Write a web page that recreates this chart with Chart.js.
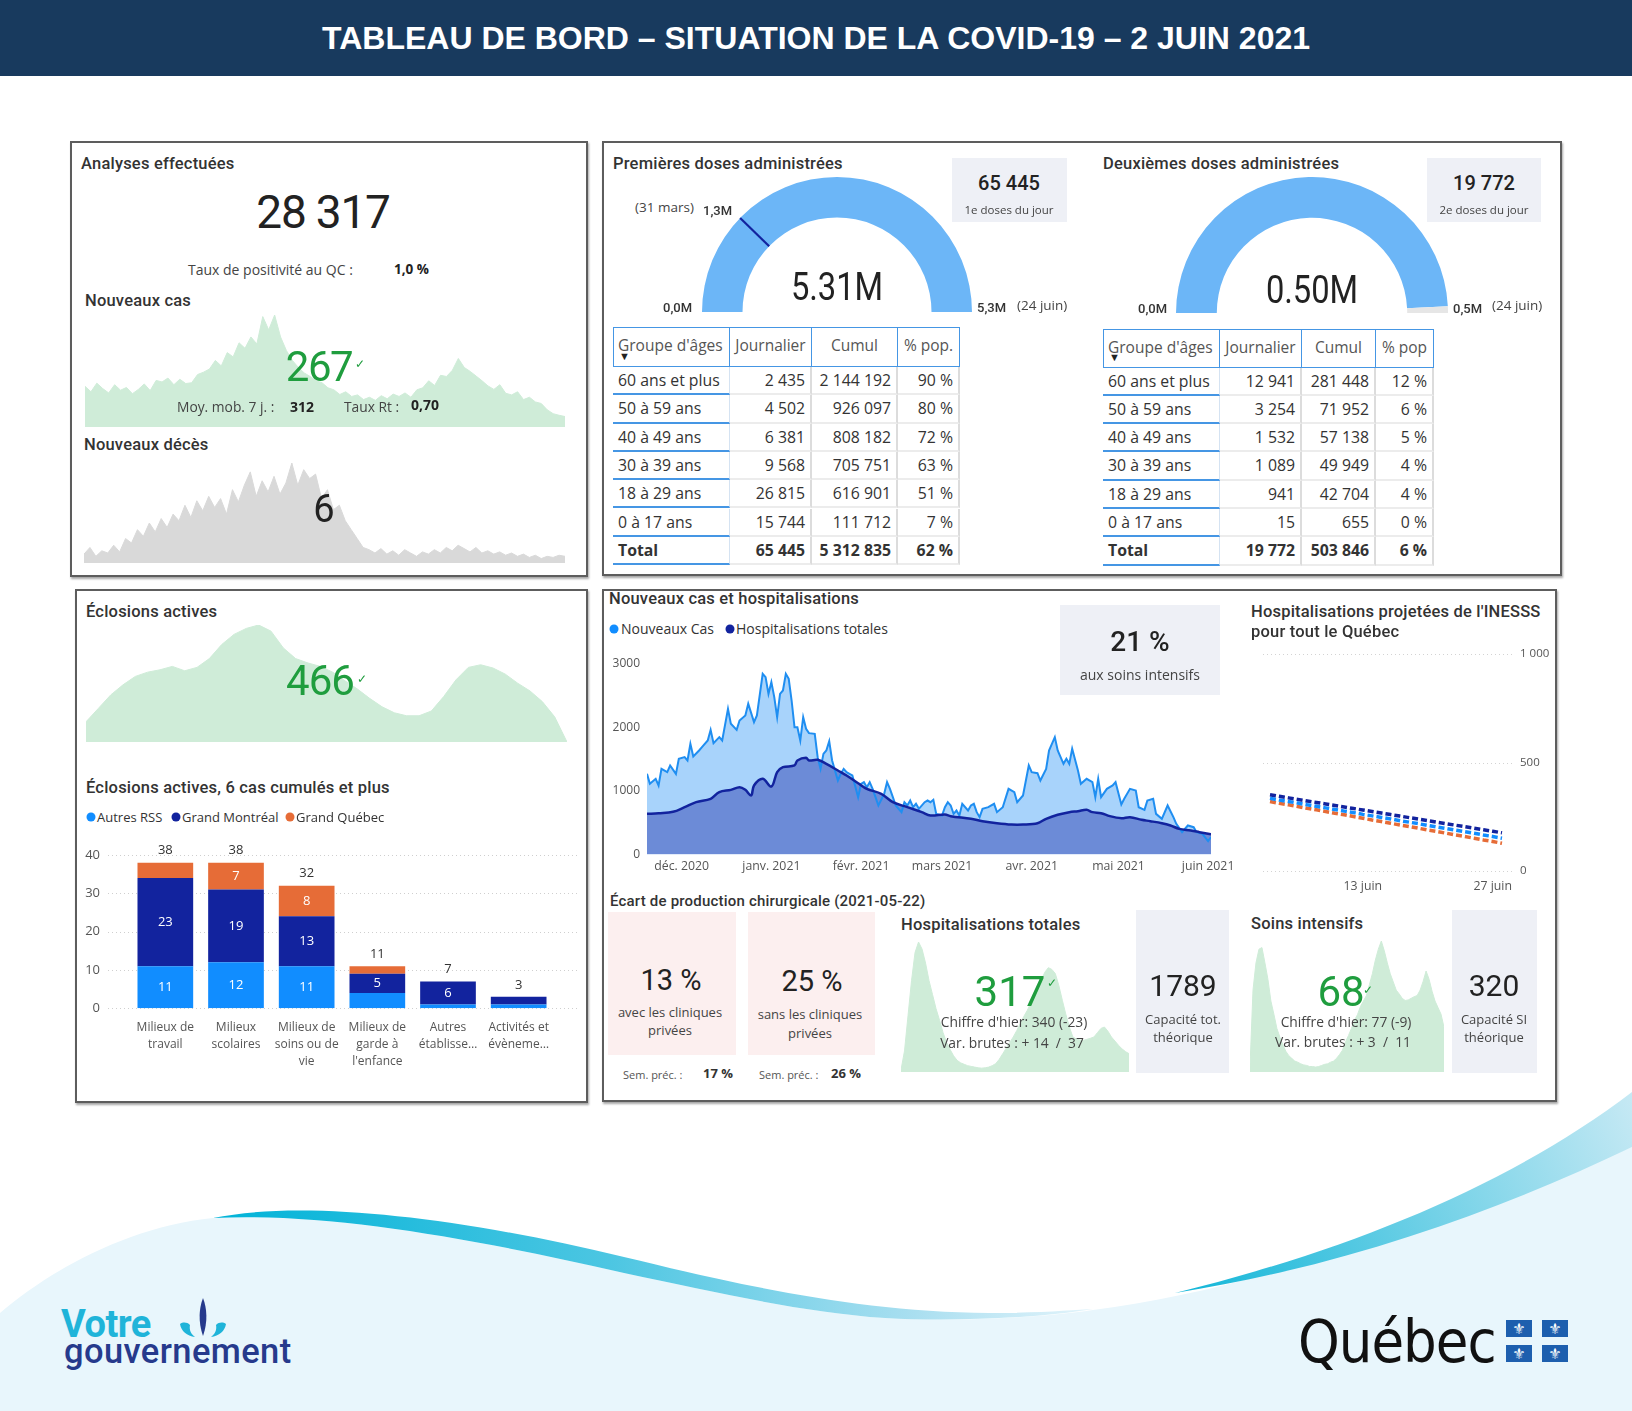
<!DOCTYPE html>
<html lang="fr">
<head>
<meta charset="utf-8">
<title>Tableau de bord – COVID-19 – 2 juin 2021</title>
<script src="https://cdn.jsdelivr.net/npm/chart.js@4/dist/chart.umd.min.js"></script>
<style>
html,body{margin:0;padding:0;}
body{width:1632px;height:1411px;position:relative;overflow:hidden;background:#fff;font-family:'Open Sans',sans-serif;color:#333;}
.hdr{position:absolute;left:0;top:0;width:1632px;height:76px;background:#183a5e;color:#fff;font:bold 32px 'Liberation Sans',Arial,sans-serif;display:flex;align-items:center;justify-content:center;z-index:3;}
.panel{position:absolute;border:2px solid #5d5d5d;box-shadow:1px 2px 2px rgba(0,0,0,.35);background:#fff;box-sizing:border-box;z-index:0;}
.L{position:absolute;transform:translateY(-50%);white-space:pre;line-height:1;z-index:3;}
.C{position:absolute;transform:translate(-50%,-50%);white-space:pre;line-height:1;text-align:center;z-index:3;}
.ttl{font-family:Roboto,sans-serif;font-weight:500;font-size:16.5px;letter-spacing:0.2px;color:#333;}
.big{font-family:Roboto,sans-serif;font-weight:400;color:#222;}
.seg{font-family:'Open Sans',sans-serif;}
.b{font-weight:700;}
.grn{color:#1f9d3e;}
.dmi{font-family:Roboto,sans-serif;font-weight:500;font-size:13px;color:#333;}
canvas{position:absolute;z-index:2;}
.box{position:absolute;background:#eef0f6;z-index:1;}
.pink{position:absolute;background:#fcefef;z-index:1;}
.dot{position:absolute;width:9px;height:9px;border-radius:50%;transform:translate(-50%,-50%);z-index:3;}
.cell{position:absolute;box-sizing:border-box;white-space:nowrap;overflow:hidden;font-family:'Open Sans',sans-serif;font-size:15.8px;color:#333;z-index:3;}
.flag{position:absolute;width:26px;height:17px;background:#1d5fae;color:#fff;font:15px 'DejaVu Sans',sans-serif;display:flex;align-items:center;justify-content:center;z-index:3;}
</style>
</head>
<body>
<svg style="position:absolute;left:0;top:1080px;z-index:0" width="1632" height="331" viewBox="0 1080 1632 331">
<defs>
<linearGradient id="sw1" x1="213" y1="0" x2="1093" y2="0" gradientUnits="userSpaceOnUse">
<stop offset="0" stop-color="#00b3d8"/><stop offset="0.45" stop-color="#4cc6e2"/><stop offset="0.8" stop-color="#aadff0"/><stop offset="1" stop-color="#e3f4fb"/>
</linearGradient>
<linearGradient id="sw2" x1="1180" y1="1290" x2="1632" y2="1095" gradientUnits="userSpaceOnUse">
<stop offset="0" stop-color="#12b6d8"/><stop offset="1" stop-color="#c6e9f4"/>
</linearGradient>
</defs>
<path d="M0,1411 L0,1313 C50,1270 130,1226 213,1218 C330,1212 480,1240 624,1273 C720,1293 800,1312 885,1318 C950,1322 1040,1318 1093,1310 C1250,1290 1420,1230 1632,1147 L1632,1411 Z" fill="#e8f6fc"/>
<path d="M213,1218 C300,1200 450,1215 624,1257 C720,1280 850,1312 989,1313 C1040,1313 1075,1310 1093,1309 C1040,1318 950,1322 885,1318 C800,1312 720,1293 624,1273 C480,1240 330,1212 213,1218 Z" fill="url(#sw1)"/>
<path d="M1175,1293 C1350,1250 1510,1185 1632,1092 L1632,1147 C1500,1210 1350,1265 1175,1293 Z" fill="url(#sw2)"/>
</svg>

<div class="hdr">TABLEAU DE BORD – SITUATION DE LA COVID-19 – 2 JUIN 2021</div>

<div class="panel" style="left:70px;top:141px;width:518px;height:436px"></div>
<div class="panel" style="left:602px;top:141px;width:960px;height:435px"></div>
<div class="panel" style="left:75px;top:589px;width:513px;height:514px"></div>
<div class="panel" style="left:602px;top:589px;width:955px;height:513px"></div>

<!-- Panel A -->
<div class="L ttl" style="left:81px;top:164px">Analyses effectuées</div>
<div class="C big" style="left:323px;top:212px;font-size:46px;letter-spacing:-1.2px">28 317</div>
<div class="L seg" style="left:188px;top:270px;font-size:14px;color:#444">Taux de positivité au QC :</div>
<div class="L seg b" style="left:394px;top:270px;font-size:13.5px;color:#222">1,0 %</div>
<div class="L ttl" style="left:85px;top:301px">Nouveaux cas</div>
<div class="C big grn" style="left:319px;top:367px;font-size:42px;letter-spacing:-1.5px">267</div>
<div class="L grn" style="left:355px;top:364px;font-size:12px">✓</div>
<div class="L seg" style="left:177px;top:407px;font-size:13.8px;color:#444">Moy. mob. 7 j. :</div>
<div class="L seg b" style="left:290px;top:407px;font-size:14px;color:#222">312</div>
<div class="L seg" style="left:344px;top:407px;font-size:13.8px;color:#444">Taux Rt :</div>
<div class="L seg b" style="left:411px;top:405px;font-size:14px;color:#222">0,70</div>
<div class="L ttl" style="left:84px;top:445px">Nouveaux décès</div>
<div class="C big" style="left:324px;top:509px;font-size:38px">6</div>

<!-- Panel B -->
<div class="L ttl" style="left:613px;top:164px">Premières doses administrées</div>
<div class="L seg" style="left:635px;top:208px;font-size:13.5px;color:#444">(31 mars)</div>
<div class="L dmi" style="left:703px;top:210px">1,3M</div>
<div class="C big" id="g1txt" style="left:837px;top:287px;font-size:38px;transform:translate(-50%,-50%) scaleX(.86)"></div>
<div class="L dmi" style="left:663px;top:307px">0,0M</div>
<div class="L dmi" style="left:977px;top:307px">5,3M</div>
<div class="L seg" style="left:1017px;top:306px;font-size:13.5px;color:#444">(24 juin)</div>
<div class="box" style="left:952px;top:158px;width:115px;height:64px"></div>
<div class="C big" id="d1day" style="left:1009px;top:183px;font-size:20px;font-weight:500"></div>
<div class="C seg" style="left:1009px;top:210px;font-size:11.5px;color:#444">1e doses du jour</div>

<div class="L ttl" style="left:1103px;top:164px">Deuxièmes doses administrées</div>
<div class="C big" id="g2txt" style="left:1312px;top:290px;font-size:38px;transform:translate(-50%,-50%) scaleX(.86)"></div>
<div class="L dmi" style="left:1138px;top:308px">0,0M</div>
<div class="L dmi" style="left:1453px;top:308px">0,5M</div>
<div class="L seg" style="left:1492px;top:306px;font-size:13.5px;color:#444">(24 juin)</div>
<div class="box" style="left:1427px;top:158px;width:114px;height:64px"></div>
<div class="C big" id="d2day" style="left:1484px;top:183px;font-size:20px;font-weight:500"></div>
<div class="C seg" style="left:1484px;top:210px;font-size:11.5px;color:#444">2e doses du jour</div>

<!-- Panel C -->
<div class="L ttl" style="left:86px;top:612px">Éclosions actives</div>
<div class="C big grn" style="left:320px;top:681px;font-size:42px;letter-spacing:-1px">466</div>
<div class="L grn" style="left:357px;top:679px;font-size:12px">✓</div>
<div class="L ttl" style="left:86px;top:788px">Éclosions actives, 6 cas cumulés et plus</div>
<div class="dot" style="left:91px;top:817px;background:#118dff"></div>
<div class="L seg" style="left:97px;top:817px;font-size:13px;color:#333">Autres RSS</div>
<div class="dot" style="left:176px;top:817px;background:#12239e"></div>
<div class="L seg" style="left:182px;top:817px;font-size:13px;color:#333">Grand Montréal</div>
<div class="dot" style="left:290px;top:817px;background:#e66c37"></div>
<div class="L seg" style="left:296px;top:817px;font-size:13px;color:#333">Grand Québec</div>

<!-- Panel D -->
<div class="L ttl" style="left:609px;top:599px">Nouveaux cas et hospitalisations</div>
<div class="dot" style="left:614px;top:629px;background:#118dff"></div>
<div class="L seg" style="left:621px;top:629px;font-size:14px;color:#333">Nouveaux Cas</div>
<div class="dot" style="left:730px;top:629px;background:#12239e"></div>
<div class="L seg" style="left:736px;top:629px;font-size:14px;color:#333">Hospitalisations totales</div>
<div class="box" style="left:1060px;top:605px;width:160px;height:90px"></div>
<div class="C big" style="left:1140px;top:642px;font-size:28px;font-weight:500">21 %</div>
<div class="C seg" style="left:1140px;top:675px;font-size:14px;color:#444">aux soins intensifs</div>
<div class="L ttl" style="left:1251px;top:612px">Hospitalisations projetées de l'INESSS</div>
<div class="L ttl" style="left:1251px;top:632px">pour tout le Québec</div>

<div class="L ttl" style="left:610px;top:901px;font-size:15px">Écart de production chirurgicale (2021-05-22)</div>
<div class="pink" style="left:608px;top:912px;width:128px;height:143px"></div>
<div class="pink" style="left:748px;top:912px;width:127px;height:143px"></div>
<div class="C big" style="left:671px;top:980px;font-size:29px">13 %</div>
<div class="C seg" style="left:670px;top:1012px;font-size:13px;color:#444">avec les cliniques</div>
<div class="C seg" style="left:670px;top:1030px;font-size:13px;color:#444">privées</div>
<div class="C big" style="left:812px;top:981px;font-size:29px">25 %</div>
<div class="C seg" style="left:810px;top:1014px;font-size:13px;color:#444">sans les cliniques</div>
<div class="C seg" style="left:810px;top:1033px;font-size:13px;color:#444">privées</div>
<div class="L seg" style="left:623px;top:1074px;font-size:11px;color:#555">Sem. préc. :</div>
<div class="L seg b" style="left:703px;top:1073px;font-size:13px;color:#333">17 %</div>
<div class="L seg" style="left:759px;top:1074px;font-size:11px;color:#555">Sem. préc. :</div>
<div class="L seg b" style="left:831px;top:1073px;font-size:13px;color:#333">26 %</div>

<div class="L ttl" style="left:901px;top:925px">Hospitalisations totales</div>
<div class="C big grn" style="left:1010px;top:992px;font-size:42px">317</div>
<div class="L grn" style="left:1047px;top:983px;font-size:12px">✓</div>
<div class="C seg" style="left:1014px;top:1022px;font-size:13.8px;color:#444">Chiffre d'hier: 340 (-23)</div>
<div class="C seg" style="left:1012px;top:1043px;font-size:13.8px;color:#444">Var. brutes : + 14  /  37</div>
<div class="box" style="left:1136px;top:910px;width:93px;height:163px"></div>
<div class="C big" style="left:1183px;top:986px;font-size:30px">1789</div>
<div class="C seg" style="left:1183px;top:1019px;font-size:13px;color:#444">Capacité tot.</div>
<div class="C seg" style="left:1183px;top:1037px;font-size:13px;color:#444">théorique</div>

<div class="L ttl" style="left:1251px;top:924px">Soins intensifs</div>
<div class="C big grn" style="left:1341px;top:992px;font-size:42px">68</div>
<div class="L grn" style="left:1363px;top:990px;font-size:12px">✓</div>
<div class="C seg" style="left:1346px;top:1022px;font-size:13.8px;color:#444">Chiffre d'hier: 77 (-9)</div>
<div class="C seg" style="left:1343px;top:1042px;font-size:13.8px;color:#444">Var. brutes : + 3  /  11</div>
<div class="box" style="left:1452px;top:910px;width:85px;height:163px"></div>
<div class="C big" style="left:1494px;top:986px;font-size:30px">320</div>
<div class="C seg" style="left:1494px;top:1019px;font-size:13px;color:#444">Capacité SI</div>
<div class="C seg" style="left:1494px;top:1037px;font-size:13px;color:#444">théorique</div>

<!-- Logos -->
<div class="L" style="left:61px;top:1324px;font:700 38px Roboto,sans-serif;color:#1fb4d9;letter-spacing:-0.5px">Votre</div>
<div class="L" style="left:64px;top:1351px;font:500 34.5px Roboto,sans-serif;color:#263a8c;letter-spacing:0.4px">gouvernement</div>
<svg style="position:absolute;left:172px;top:1296px;z-index:3" width="56" height="46" viewBox="0 0 56 46">
<path d="M31,2 C35,12 36,26 31,40 C26,26 27,12 31,2 Z" fill="#263a8c"/>
<path d="M8,28 C9,35 15,40 23,41 C19,38 17,34 18,29 C15,26 11,26 8,28 Z" fill="#1fb4d9"/>
<path d="M54,28 C53,35 47,40 39,41 C43,38 45,34 44,29 C47,26 51,26 54,28 Z" fill="#1fb4d9"/>
</svg>
<div class="L" style="left:1298px;top:1341px;font:59px 'DejaVu Sans Condensed','DejaVu Sans',sans-serif;color:#111;letter-spacing:-1px">Québec</div>
<div class="flag" style="left:1506px;top:1320px">⚜</div>
<div class="flag" style="left:1542px;top:1320px">⚜</div>
<div class="flag" style="left:1506px;top:1345px">⚜</div>
<div class="flag" style="left:1542px;top:1345px">⚜</div>

<script>
// ===================== DATA =====================
// Nouveaux cas (sparkline, 1 oct. 2020 -> 2 juin 2021, aux 3 jours)
const casesSpark = [1040,900,1120,980,870,1080,940,1010,850,960,
  1100,930,1190,1150,1250,1080,1220,1110,1130,1340,
  1400,1480,1700,1560,1900,1790,2150,2010,2300,2120,
  2820,2480,2860,2300,1950,1700,1520,1380,1290,1180,
  1130,1000,950,830,900,780,820,700,760,680,
  800,720,840,780,870,760,950,1000,1180,1060,
  1320,1290,1450,1750,1520,1420,1300,1180,1050,960,
  1080,860,820,900,700,760,640,600,440,340,
  300,267];
// Nouveaux décès (sparkline, même période)
const deathsSpark = [8,14,6,11,9,16,10,22,18,30,
  24,36,28,40,32,44,38,52,41,56,
  47,60,50,58,44,66,55,70,82,60,
  74,64,78,62,72,90,70,84,76,80,
  58,66,48,52,38,30,22,14,12,9,
  13,8,11,7,12,9,6,10,8,12,
  9,14,11,16,13,10,14,9,11,8,
  10,7,9,6,8,5,7,4,6,5,
  7,6];
// Éclosions actives (sparkline)
const outbreakSpark = [627,734,841,922,989,1023,1042,1069,1034,1061,
  1131,1243,1324,1372,1399,1350,1216,1131,1096,1069,
  1023,954,889,814,747,699,675,675,713,828,
  962,1061,1082,1056,1007,935,873,788,667,466];
// Hospitalisations totales (sparkline hebdomadaire)
const hospSpark = [30,300,800,1300,1700,1850,1750,1550,1300,1100,
  900,735,560,420,320,230,166,130,110,90,
  80,70,60,55,60,70,90,119,180,260,
  340,420,498,590,690,790,877,980,1090,1200,
  1304,1420,1485,1460,1400,1230,1020,820,640,498,
  470,455,450,465,480,498,560,620,640,580,
  498,440,380,330,290,261];
// Soins intensifs (sparkline hebdomadaire)
const icuSpark = [10,150,200,225,228,200,170,130,106,80,
  64,50,38,30,25,20,18,15,13,12,
  10,10,9,10,12,14,15,18,20,25,
  32,40,55,67,80,95,105,120,130,140,
  160,180,205,225,240,222,200,180,165,150,
  143,135,131,132,135,138,140,150,166,185,
  170,148,130,118,106,82];

// Vaccination – tables
const ageGroups = ['60 ans et plus','50 à 59 ans','40 à 49 ans','30 à 39 ans','18 à 29 ans','0 à 17 ans'];
const dose1Daily = [2435,4502,6381,9568,26815,15744];
const dose1Cumul = [2144192,926097,808182,705751,616901,111712];
const dose1Pct = [90,80,72,63,51,7];
const dose1PctTotal = 62;
const dose2Daily = [12941,3254,1532,1089,941,15];
const dose2Cumul = [281448,71952,57138,49949,42704,655];
const dose2Pct = [12,6,5,4,4,0];
const dose2PctTotal = 6;
// Jauges
const dose1Target = 5300000;   // 24 juin
const dose1Marker = 1300000;   // 31 mars
const dose2Target = 512000;    // 24 juin

// Éclosions actives, 6 cas cumulés et plus
const outbreakCategories = [['Milieux de','travail'],['Milieux','scolaires'],['Milieux de','soins ou de','vie'],['Milieux de','garde à',"l'enfance"],['Autres','établisse…'],['Activités et','évèneme…']];
const autresRSS = [11,12,11,4,1,1];
const grandMontreal = [23,19,13,5,6,2];
const grandQuebec = [4,7,8,2,0,0];

// Nouveaux cas et hospitalisations (jour 0 = 19 nov. 2020)
const caseDays = [0,1,3,4,5,7,8,10,11,13,
  14,15,16,18,19,21,22,23,25,26,
  28,29,31,32,34,35,37,38,40,41,
  42,43,44,45,46,47,48,49,50,51,
  52,53,54,55,56,58,59,60,61,62,
  63,64,66,67,68,69,70,71,73,74,
  75,76,77,78,79,80,82,83,84,85,
  86,88,89,90,91,92,93,94,96,97,
  98,99,100,102,103,104,105,106,107,108,
  109,111,112,113,114,115,116,118,120,121,
  123,125,127,128,130,132,133,135,136,138,
  139,141,142,144,145,146,147,149,150,152,
  154,155,156,157,159,161,162,164,165,167,
  169,170,172,173,175,176,178,180,182,183,
  185,187,189,190,192,194,195];
const caseValues = [1270,1113,1192,1087,1349,1297,1402,1270,1507,1533,
  1480,1743,1543,1638,1690,1795,1963,1753,1848,1795,
  2294,2058,1963,2110,2189,2373,2084,2189,2845,2793,
  2530,2714,2478,2163,2530,2583,2845,2766,2425,2005,
  2005,1795,2163,1979,1911,1900,1533,1349,1585,1638,
  1785,1480,1165,1270,1349,1297,1270,1244,903,1113,
  1139,1060,1139,1034,903,772,955,1139,1034,903,
  772,667,824,772,850,745,798,719,824,850,
  824,861,640,614,745,824,772,640,693,614,
  798,693,772,798,667,588,719,745,798,667,
  745,1034,982,824,929,1402,1297,1281,1165,1349,
  1638,1848,1638,1428,1507,1428,1664,1323,1113,1192,
  1139,903,1192,903,1034,1087,1139,787,877,1034,
  1008,745,703,850,877,640,562,772,588,483,
  352,457,430,352,325,210,273];
const hospDays = [0,4,9,13,17,22,25,29,32,34,
  36,37,40,43,45,47,51,52,55,56,
  59,62,66,69,73,76,81,85,90,95,
  98,103,105,112,116,121,126,130,135,138,
  142,146,149,152,154,157,160,164,167,171,
  174,178,181,184,188,191,195];
const hospValues = [640,651,672,745,824,877,982,1018,1060,1018,
  929,1087,1192,1071,1297,1375,1402,1480,1522,1480,
  1491,1428,1323,1244,1123,1034,955,824,745,667,
  614,630,604,562,525,493,472,472,493,562,
  625,667,682,703,667,651,604,572,588,546,
  525,493,457,404,378,352,317];
const monthDays = [12,43,74,102,133,163,194];
const monthLabels = ['déc. 2020','janv. 2021','févr. 2021','mars 2021','avr. 2021','mai 2021','juin 2021'];

// Projections INESSS
const inesssDates = ['3 juin','4 juin','5 juin','6 juin','7 juin','8 juin','9 juin','10 juin','11 juin','12 juin','13 juin','14 juin','15 juin','16 juin','17 juin','18 juin','19 juin','20 juin','21 juin','22 juin','23 juin','24 juin','25 juin','26 juin','27 juin','28 juin'];
const inesssTickLabels = ['13 juin','27 juin'];
const inesssHigh = [351,344,337,330,323,316,309,302,295,288,281,274,267,260,253,246,239,232,225,218,211,204,197,190,183,176];
const inesssMid = [335,327,320,313,305,298,291,283,276,269,261,254,247,240,232,225,218,210,203,196,188,181,174,166,159,151];
const inesssLow = [320,312,305,297,289,282,274,266,259,251,243,235,228,220,212,205,197,189,182,174,166,159,151,143,136,128];

// ===================== HELPERS =====================
const fmt = n => String(n).replace(/\B(?=(\d{3})+(?!\d))/g, '\u00a0');
const sum = a => a.reduce((s, v) => s + v, 0);

function mk(left, top, w, h) {
  const c = document.createElement('canvas');
  c.width = w; c.height = h;
  c.style.left = left + 'px'; c.style.top = top + 'px';
  c.style.width = w + 'px'; c.style.height = h + 'px';
  document.body.appendChild(c);
  return c;
}
function cell(x, y, w, h, text, css) {
  const d = document.createElement('div');
  d.className = 'cell';
  d.style.cssText += `left:${x}px;top:${y}px;width:${w}px;height:${h}px;` + css;
  d.textContent = text;
  document.body.appendChild(d);
}
function buildTable(left, top, widths, headH, rowH, headers, daily, cumul, pct, pctTotal) {
  const blue = '#4596e4';
  let x = left;
  const xs = widths.map(w => { const v = x; x += w; return v; });
  headers.forEach((h, j) => {
    let css = `border-top:1.5px solid ${blue};border-bottom:1.5px solid ${blue};border-right:1.5px solid ${blue};padding-top:6px;color:#555;font-size:15.5px;`;
    if (j === 0) css += `border-left:1.5px solid ${blue};padding-left:4px;text-align:left;`; else css += 'text-align:center;';
    cell(xs[j], top, widths[j], headH, h, css);
  });
  cell(xs[0] + 6, top + headH - 17, 14, 12, '▼', 'font-size:11px;line-height:12px;color:#222;');
  const rows = ageGroups.map((g, i) => [g, fmt(daily[i]), fmt(cumul[i]), pct[i] + ' %']);
  rows.push(['Total', fmt(sum(daily)), fmt(sum(cumul)), pctTotal + ' %']);
  rows.forEach((r, i) => {
    const y = top + headH + i * rowH;
    const bold = i === rows.length - 1 ? 'font-weight:700;' : '';
    r.forEach((t, j) => {
      let css = `line-height:${rowH - 2}px;` + bold;
      if (j === 0) css += `border-bottom:2px solid ${blue};border-right:1.5px solid #d5e3f2;padding-left:5px;text-align:left;`;
      else css += `border-bottom:2px solid #ececec;border-right:2px solid #dcdcdc;padding-right:5px;text-align:right;`;
      cell(xs[j], y, widths[j], rowH, t, css);
    });
  });
}

// ===================== CHART.JS =====================
Chart.defaults.font.family = "'Open Sans', sans-serif";
Chart.defaults.color = '#555';
Chart.defaults.animation = false;
Chart.defaults.responsive = false;
Chart.defaults.maintainAspectRatio = false;
Chart.defaults.devicePixelRatio = 1;
Chart.defaults.events = [];
Chart.defaults.plugins.legend.display = false;
Chart.defaults.plugins.tooltip.enabled = false;

const wideGrid = {
  id: 'wideGrid',
  beforeDatasetsDraw(chart, args, opts) {
    if (!opts || !opts.display) return;
    const { ctx, chartArea } = chart; const ys = chart.scales.y;
    ctx.save();
    ctx.strokeStyle = opts.color || '#cfcfcf'; ctx.lineWidth = 1; ctx.setLineDash(opts.dash || [1, 3]);
    ys.ticks.forEach(t => {
      const y = Math.round(ys.getPixelForValue(t.value)) + 0.5;
      ctx.beginPath(); ctx.moveTo(chartArea.left - opts.left, y); ctx.lineTo(chartArea.right + opts.right, y); ctx.stroke();
    });
    ctx.restore();
  }
};
const barLabels = {
  id: 'barLabels',
  afterDatasetsDraw(chart) {
    const { ctx } = chart; const ys = chart.scales.y;
    ctx.save(); ctx.textAlign = 'center'; ctx.textBaseline = 'middle';
    ctx.font = "13px 'Open Sans', sans-serif";
    chart.data.datasets.forEach((ds, di) => {
      chart.getDatasetMeta(di).data.forEach((bar, i) => {
        const v = ds.data[i];
        if (v >= 5) { ctx.fillStyle = '#fff'; ctx.fillText(String(v), bar.x, (bar.y + bar.base) / 2); }
      });
    });
    chart.data.labels.forEach((l, i) => {
      const tot = chart.data.datasets.reduce((s, d) => s + d.data[i], 0);
      const x = chart.getDatasetMeta(0).data[i].x;
      ctx.fillStyle = '#333'; ctx.fillText(String(tot), x, ys.getPixelForValue(tot) - 12);
    });
    ctx.restore();
  }
};
const gaugeMark = {
  id: 'gaugeMark',
  afterDatasetsDraw(chart, args, opts) {
    if (!opts || opts.value == null) return;
    const arc = chart.getDatasetMeta(0).data[0];
    const total = sum(chart.data.datasets[0].data);
    const a = arc.startAngle + (opts.value / total) * Math.PI;
    const { ctx } = chart;
    ctx.save(); ctx.strokeStyle = '#12239e'; ctx.lineWidth = 2.2;
    ctx.beginPath();
    ctx.moveTo(arc.x + Math.cos(a) * arc.innerRadius, arc.y + Math.sin(a) * arc.innerRadius);
    ctx.lineTo(arc.x + Math.cos(a) * arc.outerRadius, arc.y + Math.sin(a) * arc.outerRadius);
    ctx.stroke(); ctx.restore();
  }
};
// y-axis: fixed width and no extra vertical padding from tick padding
const fixY = w => s => { s.width = w; s.paddingTop = 0; s.paddingBottom = 0; };

function spark(left, top, w, h, values, color, fromZero) {
  new Chart(mk(left, top, w, h), {
    type: 'line',
    data: { labels: values.map((v, i) => i), datasets: [{ data: values, fill: 'start', backgroundColor: color, borderColor: color, borderWidth: 1, pointRadius: 0, tension: 0 }] },
    options: { layout: { padding: 0 }, scales: { x: { display: false }, y: { display: false, bounds: 'data', beginAtZero: fromZero, grace: 0 } } }
  });
}
spark(85, 315, 480, 112, casesSpark, '#cfecd8', true);
spark(84, 463, 481, 100, deathsSpark, '#d9d9d9', true);
spark(86, 625, 481, 117, outbreakSpark, '#cfecd8', false);
spark(901, 942, 228, 130, hospSpark, '#cfecd8', true);
spark(1250, 941, 194, 131, icuSpark, '#cfecd8', true);

function gauge(left, top, w, h, value, target, marker) {
  new Chart(mk(left, top, w, h), {
    type: 'doughnut',
    data: { labels: ['Administrées', 'Restantes'], datasets: [{ data: [Math.min(value, target), Math.max(target - value, 0)], backgroundColor: ['#6cb6f7', '#e6e6e6'], borderWidth: 0, hoverOffset: 0 }] },
    options: { circumference: 180, rotation: -90, cutout: '70%', layout: { padding: 0 }, plugins: { gaugeMark: { value: marker } } },
    plugins: [gaugeMark]
  });
}
const dose1Total = sum(dose1Cumul), dose2Total = sum(dose2Cumul);
gauge(702, 177, 270, 135, dose1Total, dose1Target, dose1Marker);
gauge(1176, 177, 272, 136, dose2Total, dose2Target, null);
document.getElementById('g1txt').textContent = (dose1Total / 1e6).toFixed(2) + 'M';
document.getElementById('g2txt').textContent = (dose2Total / 1e6).toFixed(2) + 'M';
document.getElementById('d1day').textContent = fmt(sum(dose1Daily));
document.getElementById('d2day').textContent = fmt(sum(dose2Daily));

buildTable(613, 327, [117, 82, 86, 62], 40, 28.3, ["Groupe d'âges", 'Journalier', 'Cumul', '% pop.'], dose1Daily, dose1Cumul, dose1Pct, dose1PctTotal);
buildTable(1103, 329, [117, 82, 74, 58], 38.5, 28.3, ["Groupe d'âges", 'Journalier', 'Cumul', '% pop'], dose2Daily, dose2Cumul, dose2Pct, dose2PctTotal);

// Éclosions – barres empilées
new Chart(mk(80, 838, 510, 242), {
  type: 'bar',
  data: { labels: outbreakCategories, datasets: [
    { label: 'Autres RSS', data: autresRSS, backgroundColor: '#118dff' },
    { label: 'Grand Montréal', data: grandMontreal, backgroundColor: '#12239e' },
    { label: 'Grand Québec', data: grandQuebec, backgroundColor: '#e66c37' }
  ]},
  options: {
    layout: { padding: { top: 17, right: 36, left: 0, bottom: 0 } },
    datasets: { bar: { barPercentage: 0.788, categoryPercentage: 1, borderWidth: 0 } },
    plugins: { wideGrid: { display: true, left: 22, right: 24 } },
    scales: {
      x: { stacked: true, grid: { display: false, drawTicks: false }, border: { display: false },
           afterFit: s => { s.height = 71.7; },
           ticks: { padding: 11, font: { size: 12, lineHeight: 1.4 }, color: '#555', autoSkip: false, maxRotation: 0 } },
      y: { stacked: true, min: 0, max: 40, grid: { display: false, drawTicks: false }, border: { display: false },
           afterFit: fixY(50),
           ticks: { stepSize: 10, padding: 30, font: { size: 13 }, color: '#555' } }
    }
  },
  plugins: [wideGrid, barLabels]
});

// Nouveaux cas et hospitalisations
new Chart(mk(600, 650, 645, 235), {
  type: 'line',
  data: { datasets: [
    { label: 'Hospitalisations totales', data: hospDays.map((d, i) => ({ x: d, y: hospValues[i] })), borderColor: '#12239e', backgroundColor: '#6c8bd7', borderWidth: 2.5, fill: 'origin', pointRadius: 0, tension: 0.35 },
    { label: 'Nouveaux Cas', data: caseDays.map((d, i) => ({ x: d, y: caseValues[i] })), borderColor: '#1f8ef1', backgroundColor: '#a8d3fb', borderWidth: 2, fill: 'origin', pointRadius: 0, tension: 0 }
  ]},
  options: {
    layout: { padding: { top: 14, right: 34, left: 0, bottom: 0 } },
    plugins: { filler: { drawTime: 'beforeDatasetsDraw' } },
    scales: {
      x: { type: 'linear', min: caseDays[0], max: caseDays[caseDays.length - 1],
           grid: { display: false, drawTicks: false }, border: { display: false },
           afterBuildTicks: s => { s.ticks = monthDays.map(v => ({ value: v })); },
           afterFit: s => { s.height = 30.5; },
           ticks: { autoSkip: false, maxRotation: 0, padding: 5, font: { size: 12.3 }, color: '#555', callback: v => monthLabels[monthDays.indexOf(v)] } },
      y: { min: 0, max: 3000, grid: { display: false, drawTicks: false }, border: { display: false },
           afterFit: fixY(47),
           ticks: { stepSize: 1000, padding: 7, font: { size: 12 }, color: '#555', callback: v => String(v) } }
    }
  }
});

// Projections INESSS
new Chart(mk(1250, 640, 310, 260), {
  type: 'line',
  data: { labels: inesssDates, datasets: [
    { label: 'Borne supérieure', data: inesssHigh, borderColor: '#12239e' },
    { label: 'Projection', data: inesssMid, borderColor: '#118dff' },
    { label: 'Borne inférieure', data: inesssLow, borderColor: '#e66c37' }
  ].map(d => Object.assign(d, { borderWidth: 3.5, borderDash: [6, 3], pointRadius: 0, fill: false, tension: 0 })) },
  options: {
    layout: { padding: { top: 14, right: 0, left: 20, bottom: 0 } },
    plugins: { wideGrid: { display: true, left: 7, right: 10, color: '#d3d3d3' } },
    scales: {
      x: { offset: false, grid: { display: false, drawTicks: false }, border: { display: false },
           afterFit: s => { s.height = 29; },
           ticks: { autoSkip: false, maxRotation: 0, padding: 8, font: { size: 12.3 }, color: '#555',
                    callback: (v, i) => inesssTickLabels.includes(inesssDates[i]) ? inesssDates[i] : '' } },
      y: { position: 'right', min: 0, max: 1000, grid: { display: false, drawTicks: false }, border: { display: false },
           afterFit: fixY(58),
           ticks: { stepSize: 500, padding: 18, font: { size: 11.5 }, color: '#555', callback: v => fmt(v) } }
    }
  },
  plugins: [wideGrid]
});
</script>
</body>
</html>
